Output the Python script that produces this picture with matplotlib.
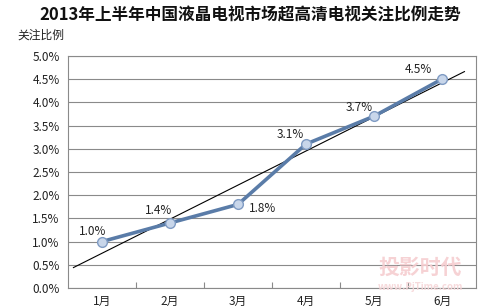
import numpy as np
import matplotlib
matplotlib.use("Agg")
import matplotlib.pyplot as plt

plt.rcParams['font.family'] = ['Noto Sans CJK SC', 'DejaVu Sans']

months = ['1月', '2月', '3月', '4月', '5月', '6月']
share = [1.0, 1.4, 1.8, 3.1, 3.7, 4.5]
yticks = [0.0, 0.5, 1.0, 1.5, 2.0, 2.5, 3.0, 3.5, 4.0, 4.5, 5.0]

# label offsets in points (dx, dy) for each data label
label_offsets = [(-7, 7), (-8, 9), (18, -3), (-11, 7), (-11, 6), (-17, 7)]

fig = plt.figure(figsize=(5.0, 3.07), dpi=100)
ax = fig.add_axes([0.136, 0.062, 0.816, 0.756])

x = np.arange(len(months))

# horizontal grid
for v in yticks:
    ax.axhline(v, color='#8a8a8a', lw=0.8, zorder=1)

# linear trend line
k, b = np.polyfit(x, share, 1)
tx = np.array([-0.42, 5.33])
ax.plot(tx, k * tx + b, color='black', lw=0.8, zorder=2)

ax.plot(x, share, color='#5a7ca8', lw=2.6, marker='o', markersize=7,
        markerfacecolor='#c8d6ea', markeredgecolor='#7f9bc3', markeredgewidth=1.0,
        zorder=3)

for xi, v, (dx, dy) in zip(x, share, label_offsets):
    ax.annotate(f'{v:.1f}%', (xi, v), textcoords='offset points', xytext=(dx, dy),
                ha='center', va='center', fontsize=8.5, color='#222222')

ax.set_xlim(-0.5, 5.5)
ax.set_ylim(0, 5.0)
ax.set_yticks(yticks)
ax.set_yticklabels([f'{v:.1f}%' for v in yticks], fontsize=8.5, color='#222222')
ax.tick_params(axis='y', length=0, pad=6)

ax.set_xticks(np.arange(0.5, 5.5, 1.0))
ax.set_xticklabels([])
ax.set_xticks(x, minor=True)
ax.set_xticklabels(months, minor=True, fontsize=8.5, color='#222222')
ax.tick_params(axis='x', which='major', length=4, color='#8a8a8a', direction='in')
ax.tick_params(axis='x', which='minor', length=0, pad=5)

for s in ax.spines.values():
    s.set_color('#8a8a8a')
    s.set_linewidth(0.8)

fig.text(0.5, 0.95, '2013年上半年中国液晶电视市场超高清电视关注比例走势',
         ha='center', va='center', fontsize=12, fontweight='bold', color='#111111')
fig.text(0.034, 0.885, '关注比例', ha='left', va='center', fontsize=8.5, color='#222222')

# faint watermark
fig.text(0.84, 0.13, '投影时代', ha='center', va='center', fontsize=15,
         fontweight='bold', color='#f6cdd0', alpha=0.9)
fig.text(0.84, 0.064, 'www.PjTime.com', ha='center', va='center', fontsize=7,
         fontweight='bold', color='#f6d6d8', alpha=0.9)

fig.savefig('out.png', dpi=100)
